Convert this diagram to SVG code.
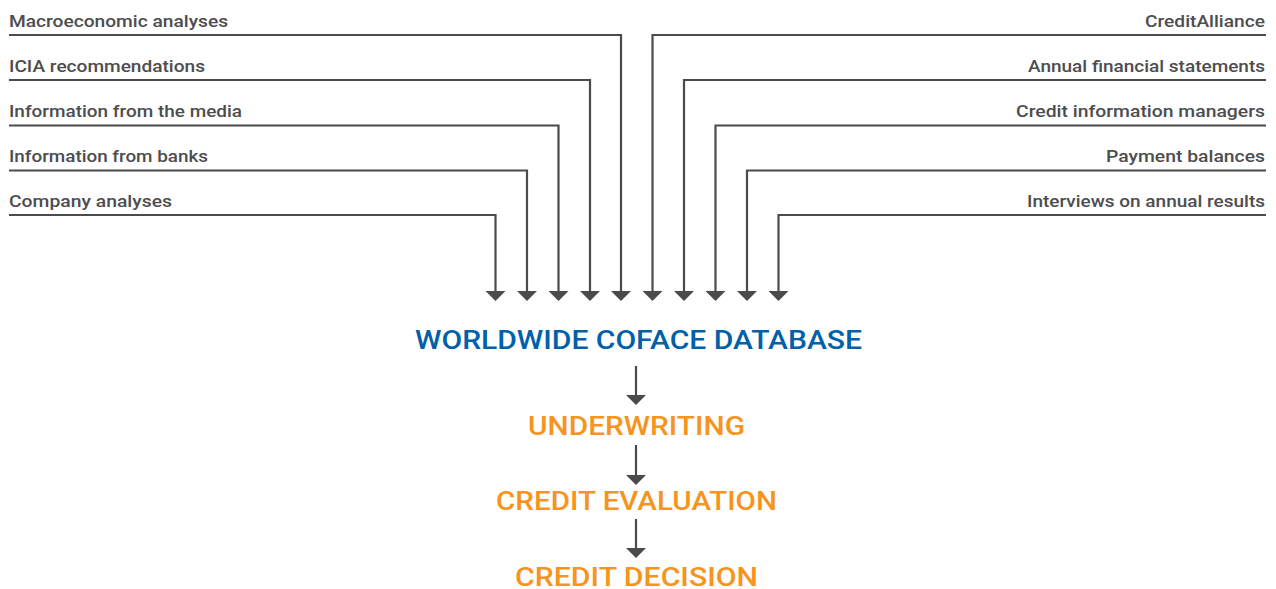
<svg xmlns="http://www.w3.org/2000/svg" width="1276" height="589" viewBox="0 0 1276 589">
<defs>
<marker id="ah" viewBox="0 -10 10 20" refX="0" refY="0" markerWidth="10" markerHeight="20" markerUnits="userSpaceOnUse" orient="auto">
<path d="M0,-10 L10,0 L0,10 z" fill="#4a4b4d"/>
</marker>
<style>
.lbl{font-family:Roboto,"Liberation Sans",Arial,sans-serif;font-weight:500;font-size:16.5px;fill:#4d4d4f}
.blue{font-family:Roboto,"Liberation Sans",Arial,sans-serif;font-weight:500;font-size:26px;fill:#0060a9}
.orange{font-family:Roboto,"Liberation Sans",Arial,sans-serif;font-weight:500;font-size:26px;fill:#f7941d}
.c{fill:none;stroke:#4a4b4d;stroke-width:2.2;marker-end:url(#ah)}
</style>
</defs>
<rect width="1276" height="589" fill="#ffffff"/>
<g id="connectors">
<path class="c" d="M9,35 H621 V291"/>
<path class="c" d="M9,80 H590 V291"/>
<path class="c" d="M9,125.5 H558.5 V291"/>
<path class="c" d="M9,170.5 H527 V291"/>
<path class="c" d="M9,215 H495.5 V291"/>
<path class="c" d="M1266,35 H652.5 V291"/>
<path class="c" d="M1266,80 H684 V291"/>
<path class="c" d="M1266,125.5 H715.5 V291"/>
<path class="c" d="M1266,170.5 H747 V291"/>
<path class="c" d="M1266,215 H778.5 V291"/>
<path class="c" d="M636,366 V395"/>
<path class="c" d="M636,445 V475"/>
<path class="c" d="M636,519 V548"/>
</g>
<g id="src-macro"><text class="lbl" x="9" y="27" textLength="219" lengthAdjust="spacingAndGlyphs">Macroeconomic analyses</text></g>
<g id="src-icia"><text class="lbl" x="9" y="72" textLength="196" lengthAdjust="spacingAndGlyphs">ICIA recommendations</text></g>
<g id="src-media"><text class="lbl" x="9" y="117" textLength="233" lengthAdjust="spacingAndGlyphs">Information from the media</text></g>
<g id="src-banks"><text class="lbl" x="9" y="162" textLength="199" lengthAdjust="spacingAndGlyphs">Information from banks</text></g>
<g id="src-company"><text class="lbl" x="9" y="207" textLength="163" lengthAdjust="spacingAndGlyphs">Company analyses</text></g>
<g id="src-creditalliance"><text class="lbl" x="1145" y="27" textLength="120" lengthAdjust="spacingAndGlyphs">CreditAlliance</text></g>
<g id="src-annual"><text class="lbl" x="1028" y="72" textLength="237" lengthAdjust="spacingAndGlyphs">Annual financial statements</text></g>
<g id="src-cim"><text class="lbl" x="1016" y="117" textLength="249" lengthAdjust="spacingAndGlyphs">Credit information managers</text></g>
<g id="src-payment"><text class="lbl" x="1106" y="162" textLength="159" lengthAdjust="spacingAndGlyphs">Payment balances</text></g>
<g id="src-interviews"><text class="lbl" x="1027" y="207" textLength="238" lengthAdjust="spacingAndGlyphs">Interviews on annual results</text></g>
<g id="database"><text class="blue" x="415" y="348.5" textLength="447" lengthAdjust="spacingAndGlyphs">WORLDWIDE COFACE DATABASE</text></g>
<g id="underwriting"><text class="orange" x="528" y="435" textLength="217" lengthAdjust="spacingAndGlyphs">UNDERWRITING</text></g>
<g id="evaluation"><text class="orange" x="496" y="510" textLength="281" lengthAdjust="spacingAndGlyphs">CREDIT EVALUATION</text></g>
<g id="decision"><text class="orange" x="515" y="586" textLength="243" lengthAdjust="spacingAndGlyphs">CREDIT DECISION</text></g>
</svg>
